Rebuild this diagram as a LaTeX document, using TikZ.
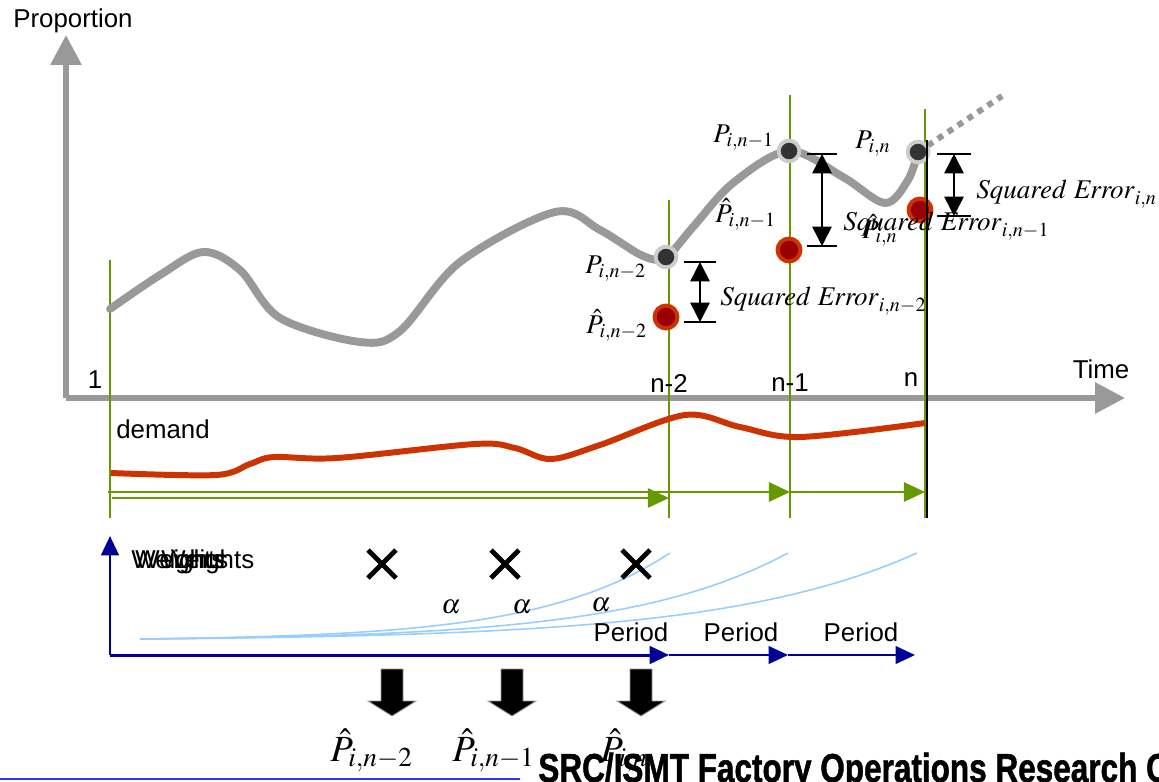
\documentclass[tikz,border=0pt]{standalone}
\usepackage{mathptmx}
\usepackage{fontspec}
\setmainfont{Liberation Sans}
\newfontfamily\titlefont{Liberation Sans}[UprightFont={* Bold}, FakeBold=1.5]
\usetikzlibrary{arrows.meta, positioning}
\definecolor{axisgray}{HTML}{999999}
\definecolor{ptdark}{HTML}{333333}
\definecolor{ptrim}{HTML}{CCCCCC}
\definecolor{fcred}{HTML}{990000}
\definecolor{fcrim}{HTML}{CC3300}
\definecolor{periodgreen}{HTML}{669900}
\definecolor{weightblue}{HTML}{99CCFF}
\definecolor{weightnavy}{HTML}{000099}
\definecolor{footblue}{HTML}{3333FF}
\tikzset{
    % Gray axes of the proportion chart
    axis/.style={draw=axisgray, line width=3.4pt, -{Triangle[length=17pt, width=17pt]}},
    % Text styles
    sans label/.style={font=\fontsize{14.7}{17}\selectfont, inner sep=0pt},
    math label/.style={font=\fontsize{15.4}{18}\selectfont, inner sep=0pt},
    % Actual proportion P (dark dots) and forecast (red dots)
    actual point/.style={circle, draw=ptrim, fill=ptdark, line width=2.2pt, minimum size=11.8pt, inner sep=0pt},
    forecast point/.style={circle, draw=fcrim, fill=fcred, line width=2.3pt, minimum size=13pt, inner sep=0pt},
    % Period markers
    period line/.style={draw=periodgreen, line width=1.1pt},
    period arrow/.style={draw=periodgreen, line width=1.1pt, -{Triangle[length=12pt, width=11pt, fill=periodgreen]}},
    % Squared error markers
    error bar/.style={black, line width=1.1pt},
    error arrow/.style={black, line width=0.9pt, {Triangle[length=11pt, width=11pt]}-{Triangle[length=11pt, width=11pt]}},
    % Weights axes (navy)
    weight axis/.style={draw=weightnavy, line width=1.7pt, -{Triangle[length=11pt, width=10pt]}},
    weight curve/.style={draw=weightblue, line width=0.9pt},
    cross/.style={black, line width=2.8pt},
    block arrow/.style={fill=black, draw=axisgray, line width=0.5pt}
}

\begin{document}
\begin{tikzpicture}[x=0.02cm, y=-0.02cm]
    \useasboundingbox (0,0) rectangle (1159,781);

    % --- Axes ---
    \coordinate (O) at (66,398);
    \draw[axis] (O) -- (66,35);
    \draw[axis] (O) -- (1125,398);
    \node[sans label] (prop) at (73,21) {Proportion};
    \node[sans label] (time) at (1101,369) {Time};

    % --- Period lines ---
    \foreach \x/\top in {110/260, 669/200, 790/95, 925/109}
        \draw[period line] (\x,\top) -- (\x,518);
    \node[sans label] (tick1) at (95,380) {1};
    \node[sans label] (tickn2) at (669,383) {n-2};
    \node[sans label] (tickn1) at (790,383) {n-1};
    \node[sans label] (tickn) at (911,380) {n};

    % --- Proportion curve ---
    \draw[axisgray, line width=4.5pt, line cap=round] plot[smooth, tension=0.55] coordinates {
        (110,309) (160,275) (203,252) (240,270) (280,318) (360,342) (400,331)
        (460,262) (555,212) (600,230) (643,256) (666,257) (693,227) (733,183)
        (789,151) (843,177) (885,203) (908,180) (918,152)};
    \draw[axisgray, line width=3.4pt, dash pattern=on 3.4pt off 3.4pt] (918,152) -- (1002,96);

    % --- Actual and forecast points ---
    \node[actual point] (P2) at (666,257) {};
    \node[actual point] (P1) at (789,151) {};
    \node[actual point] (P0) at (918,152) {};
    \node[forecast point] (F2) at (666,317) {};
    \node[forecast point] (F1) at (789,250) {};
    \node[forecast point] (F0) at (920,210) {};
    \draw[black, line width=1pt] (927,140) -- (927,518);

    \node[math label, anchor=base west] (lP2) at (585,273) {$P_{i,n-2}$};
    \node[math label, anchor=base west] (lF2) at (586,333) {$\hat{P}_{i,n-2}$};
    \node[math label, anchor=base west] (lP1) at (713,142) {$P_{i,n-1}$};
    \node[math label, anchor=base west] (lF1) at (715,222) {$\hat{P}_{i,n-1}$};
    \node[math label, anchor=base west] (lP0) at (855,148) {$P_{i,n}$};
    \node[math label, anchor=base west] (lF0) at (862,238) {$\hat{P}_{i,n}$};

    % --- Squared errors ---
    \coordinate (e2t) at (700,262); \coordinate (e2b) at (700,322);
    \draw[error bar] (684,262) -- (716,262);
    \draw[error bar] (684,322) -- (716,322);
    \draw[error arrow] (e2t) -- (e2b);
    \node[math label, anchor=base west] (err2) at (720,305) {$\mathit{Squared\ Error}_{i,n-2}$};

    \coordinate (e1t) at (822,154); \coordinate (e1b) at (822,246);
    \draw[error bar] (807,154) -- (837,154);
    \draw[error bar] (807,246) -- (837,246);
    \draw[error arrow] (e1t) -- (e1b);
    \node[math label, anchor=base west] (err1) at (843,230) {$\mathit{Squared\ Error}_{i,n-1}$};

    \coordinate (e0t) at (954,154); \coordinate (e0b) at (954,216);
    \draw[error bar] (937,154) -- (971,154);
    \draw[error bar] (937,216) -- (971,216);
    \draw[error arrow] (e0t) -- (e0b);
    \node[math label, anchor=base west] (err0) at (976,198) {$\mathit{Squared\ Error}_{i,n}$};

    % --- Demand ---
    \node[sans label] (demand) at (163,429) {demand};
    \draw[fcrim, line width=3.4pt] plot[smooth, tension=0.55] coordinates {
        (111,473) (216,475) (250,464) (274,457) (337,458) (475,444) (515,448)
        (551,459) (600,445) (685,415) (740,427) (800,437) (925,423)};

    % --- Period arrows ---
    \draw[period line] (108,492) -- (669,492);
    \draw[period arrow, line width=0.8pt] (112,498) -- (669,498);
    \draw[period arrow] (669,492) -- (790,492);
    \draw[period arrow] (790,492) -- (925,492);

    % --- Weights ---
    \draw[weight axis] (110,655) -- (110,536);
    \draw[weight axis] (110,655) -- (669,655);
    \draw[weight axis, line width=1.2pt] (669,655) -- (788,655);
    \draw[weight axis, line width=1.2pt] (788,655) -- (915,655);
    \foreach \dx in {0,4,30}
        \node[sans label, anchor=base west] at (131+\dx,568) {Weights};
    \foreach \xe in {670,788,917}
        \draw[weight curve] plot[domain=0:1, samples=40] ({140+(\xe-140)*\x}, {639-86*(exp(4*\x)-1)/53.6});
    \foreach \x in {382,505,636}
        \draw[cross] (\x-14,550) -- (\x+14,578) (\x-14,578) -- (\x+14,550);
    \node[math label] (a1) at (451,607) {$\alpha$};
    \node[math label] (a2) at (522,607) {$\alpha$};
    \node[math label] (a3) at (601,605) {$\alpha$};
    \node[sans label] (per1) at (631,632) {Period};
    \node[sans label] (per2) at (741,632) {Period};
    \node[sans label] (per3) at (861,632) {Period};

    % --- Forecasts ---
    \foreach \x in {392,512,641}
        \draw[block arrow] (\x-11,669) -- (\x+11,669) -- (\x+11,701) -- (\x+24,701)
            -- (\x,716) -- (\x-24,701) -- (\x-11,701) -- cycle;
    \node[anchor=base west, inner sep=0pt, font=\fontsize{21}{24}\selectfont] (h2) at (330,761) {$\hat{P}_{i,n-2}$};
    \node[anchor=base west, inner sep=0pt, font=\fontsize{21}{24}\selectfont] (h1) at (452,761) {$\hat{P}_{i,n-1}$};
    \node[anchor=base west, inner sep=0pt, font=\fontsize{21}{24}\selectfont] (h0) at (600,761) {$\hat{P}_{i,n}$};
    \draw[footblue, line width=1.2pt] (0,779) -- (520,779);
    \node[anchor=base west, inner sep=0pt, font=\fontsize{23}{26}\selectfont\titlefont] (title) at (538,782)
        {\scalebox{0.78}[1]{SRC/ISMT Factory Operations Research C}};
\end{tikzpicture}
\end{document}
